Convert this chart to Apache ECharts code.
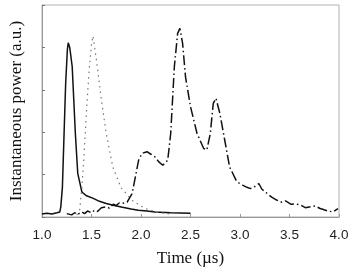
<!DOCTYPE html>
<html lang="en">
<head>
    <meta charset="UTF-8">
    <title>Instantaneous power</title>
    <style>
        body { margin: 0; background: #fff; }
        #main { width: 352px; height: 272px; }
    </style>
</head>
<body>
    <div id="main"></div>
    <script src="https://cdn.jsdelivr.net/npm/echarts@6/dist/echarts.min.js"></script>
    <script>
        // x 轴刻度
        var xTicks = [1.0, 1.5, 2.0, 2.5, 3.0, 3.5, 4.0];

        // 实线
        var solidX = [1.00, 1.05, 1.10, 1.15, 1.18, 1.19, 1.206, 1.223, 1.239, 1.256, 1.265, 1.28, 1.305, 1.337, 1.361, 1.403, 1.45, 1.518, 1.58, 1.649, 1.73, 1.813, 1.90, 1.973, 2.06, 2.14, 2.30, 2.50];
        var solidY = [0.07, 0.09, 0.07, 0.10, 0.12, 0.24, 0.70, 1.97, 3.15, 3.94, 4.11, 4.00, 3.55, 1.97, 1.03, 0.59, 0.50, 0.44, 0.37, 0.32, 0.27, 0.23, 0.19, 0.16, 0.14, 0.12, 0.10, 0.09];

        // 点线
        var dotX = [1.35, 1.38, 1.403, 1.426, 1.452, 1.479, 1.501, 1.515, 1.55, 1.60, 1.649, 1.715, 1.796, 1.911, 2.04, 2.17, 2.30];
        var dotY = [0.05, 0.15, 0.70, 1.50, 2.60, 3.55, 4.10, 4.27, 3.70, 2.76, 1.97, 1.18, 0.70, 0.39, 0.20, 0.11, 0.07];

        // 点划线
        var dashX = [1.25, 1.30, 1.33, 1.36, 1.40, 1.43, 1.46, 1.50, 1.53, 1.56, 1.60, 1.616, 1.65, 1.68, 1.72, 1.747, 1.78, 1.81, 1.86, 1.91, 1.976, 2.01, 2.06, 2.10, 2.14, 2.18, 2.22, 2.27, 2.30, 2.337, 2.37, 2.393, 2.42, 2.45, 2.50, 2.566, 2.632, 2.665, 2.70, 2.73, 2.757, 2.796, 2.846, 2.895, 2.96, 2.99, 3.026, 3.07, 3.107, 3.15, 3.19, 3.22, 3.255, 3.32, 3.37, 3.419, 3.46, 3.517, 3.56, 3.616, 3.66, 3.714, 3.76, 3.81, 3.85, 3.89, 3.94, 3.99];
        var dashY = [0.08, 0.05, 0.10, 0.06, 0.12, 0.08, 0.14, 0.10, 0.16, 0.13, 0.22, 0.20, 0.24, 0.21, 0.30, 0.27, 0.33, 0.32, 0.35, 0.55, 1.34, 1.50, 1.54, 1.48, 1.42, 1.30, 1.22, 1.34, 1.97, 3.55, 4.33, 4.45, 4.10, 3.30, 2.60, 1.97, 1.62, 1.58, 1.97, 2.68, 2.80, 2.45, 1.81, 1.18, 0.87, 0.80, 0.75, 0.70, 0.67, 0.72, 0.79, 0.66, 0.59, 0.47, 0.40, 0.35, 0.38, 0.30, 0.31, 0.28, 0.22, 0.24, 0.26, 0.20, 0.17, 0.14, 0.12, 0.20];

        function pairs(xs, ys) {
            var out = [];
            for (var i = 0; i < xs.length; i++) {
                out.push([xs[i], ys[i]]);
            }
            return out;
        }

        var myChart = echarts.init(document.getElementById('main'));
        var option = {
            animation: false,
            grid: {
                left: 34,
                right: 13,
                top: 5,
                bottom: 54,
                show: true,
                borderColor: '#b0b0b0',
                borderWidth: 1
            },
            xAxis: {
                type: 'value',
                min: 1,
                max: 4,
                interval: 0.5,
                name: 'Time (\u00b5s)',
                nameLocation: 'middle',
                nameGap: 33,
                nameTextStyle: { fontFamily: 'Liberation Serif', fontSize: 17, color: '#111' },
                axisLine: { lineStyle: { color: '#999' } },
                axisTick: { inside: true, length: 3, lineStyle: { color: '#999' } },
                axisLabel: {
                    margin: 11,
                    fontFamily: 'Liberation Sans',
                    fontSize: 13.5,
                    color: '#222',
                    formatter: function (v) {
                        return xTicks.indexOf(v) >= 0 ? v.toFixed(1) : '';
                    }
                },
                splitLine: { show: false }
            },
            yAxis: {
                type: 'value',
                min: 0,
                max: 5,
                interval: 1,
                name: 'Instantaneous power (a.u.)',
                nameLocation: 'middle',
                nameGap: 17,
                nameTextStyle: { fontFamily: 'Liberation Serif', fontSize: 17, color: '#111' },
                axisLine: { show: true, lineStyle: { color: '#999' } },
                axisTick: { show: true, inside: true, length: 3, lineStyle: { color: '#777' } },
                axisLabel: { show: false },
                splitLine: { show: false }
            },
            series: [
                {
                    type: 'line',
                    showSymbol: false,
                    data: pairs(solidX, solidY),
                    lineStyle: { color: '#111', width: 1.5 }
                },
                {
                    type: 'line',
                    showSymbol: false,
                    data: pairs(dotX, dotY),
                    lineStyle: { color: '#777', width: 1.2, type: [1.5, 4] }
                },
                {
                    type: 'line',
                    showSymbol: false,
                    data: pairs(dashX, dashY),
                    lineStyle: { color: '#111', width: 1.5, type: [10, 3, 1.5, 3] }
                }
            ]
        };
        myChart.setOption(option);
    </script>
</body>
</html>
